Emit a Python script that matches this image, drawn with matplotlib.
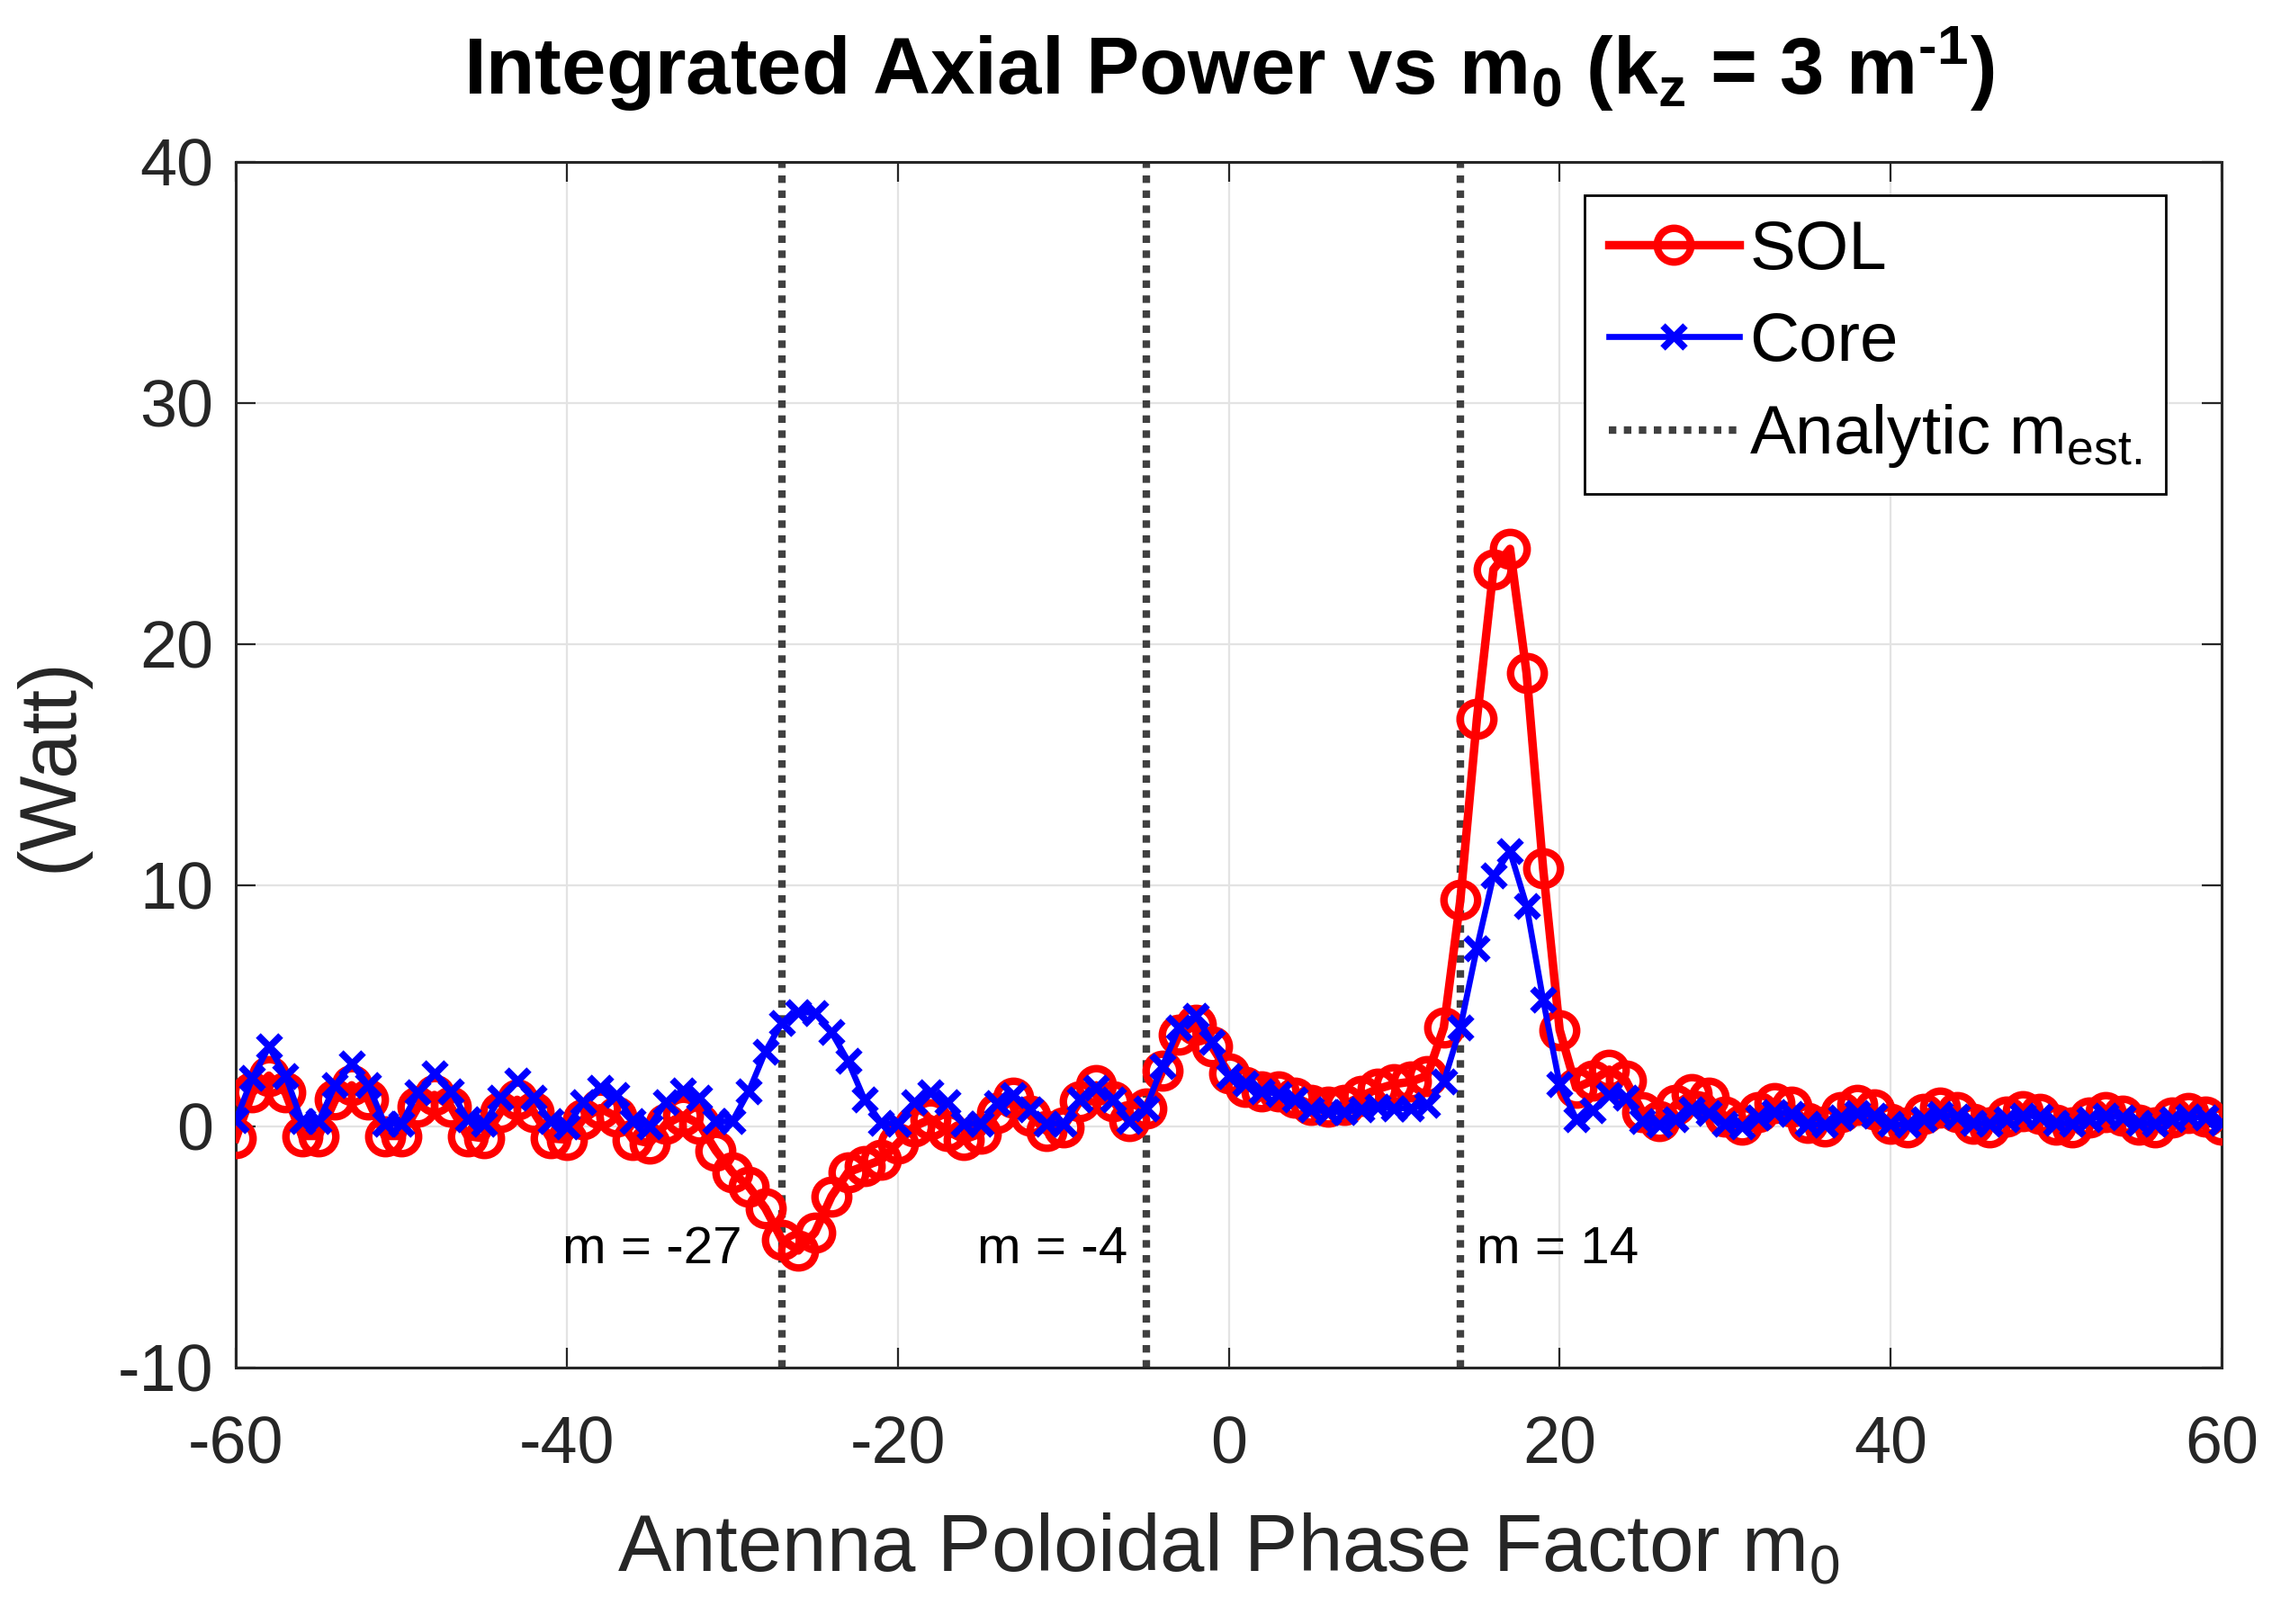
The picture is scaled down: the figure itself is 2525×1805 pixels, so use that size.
import numpy as np
import matplotlib
matplotlib.use("Agg")
import matplotlib.pyplot as plt

# antenna poloidal phase factor m0 (integer scan)
m0 = np.arange(-60, 61)

# integrated axial power in the scrape-off layer (Watt)
sol_power = [
	-0.5, 1.4, 2.1, 1.4, -0.4, -0.4, 1.1, 1.7, 1.1, -0.4,
	-0.4, 0.8, 1.3, 0.8, -0.4, -0.5, 0.6, 1.1, 0.6, -0.5,
	-0.55, 0.3, 0.75, 0.4, -0.55, -0.7, 0.1, 0.45, 0.1, -1.0,
	-1.9, -2.5, -3.4, -4.7, -5.15, -4.4, -2.9, -1.9, -1.65, -1.4,
	-0.7, 0.0, 0.3, -0.2, -0.55, -0.3, 0.55, 1.2, 0.45, -0.2,
	-0.05, 1.05, 1.7, 1.05, 0.2, 0.75, 2.3, 3.8, 4.2, 3.3,
	2.2, 1.65, 1.45, 1.45, 1.2, 0.9, 0.8, 0.9, 1.25, 1.55,
	1.75, 1.85, 2.1, 4.1, 9.4, 16.9, 23.1, 23.95, 18.8, 10.7,
	4.0, 1.6, 1.9, 2.35, 1.9, 0.6, 0.2, 0.9, 1.35, 1.2,
	0.4, 0.05, 0.6, 0.95, 0.8, 0.15, 0.0, 0.6, 0.9, 0.7,
	0.1, -0.05, 0.5, 0.78, 0.6, 0.1, -0.05, 0.4, 0.62, 0.5,
	0.05, -0.05, 0.35, 0.58, 0.45, 0.05, -0.05, 0.35, 0.55, 0.4,
	0.05,
]

# integrated axial power in the core (Watt)
core_power = [
	0.26, 2.0, 3.3, 2.1, 0.2, 0.2, 1.7, 2.6, 1.7, 0.1,
	0.1, 1.4, 2.2, 1.45, 0.3, 0.1, 1.2, 1.9, 1.2, 0.2,
	0.0, 1.0, 1.6, 1.3, 0.2, 0.0, 1.0, 1.5, 1.2, 0.2,
	0.2, 1.45, 3.1, 4.3, 4.75, 4.7, 3.9, 2.7, 1.1, 0.15,
	0.1, 1.0, 1.4, 1.0, 0.1, 0.1, 0.95, 1.3, 0.7, 0.1,
	0.1, 1.1, 1.6, 1.1, 0.2, 0.75, 2.5, 4.1, 4.6, 3.5,
	2.1, 1.8, 1.45, 1.35, 1.1, 0.7, 0.6, 0.6, 0.7, 0.8,
	0.75, 0.75, 0.9, 1.85, 4.1, 7.4, 10.4, 11.4, 9.15, 5.25,
	1.75, 0.3, 0.65, 1.3, 1.2, 0.2, 0.05, 0.3, 0.7, 0.55,
	0.1, 0.0, 0.35, 0.6, 0.5, 0.1, 0.05, 0.35, 0.55, 0.45,
	0.1, 0.05, 0.3, 0.5, 0.4, 0.15, 0.1, 0.3, 0.45, 0.4,
	0.15, 0.1, 0.3, 0.45, 0.35, 0.15, 0.1, 0.3, 0.4, 0.35,
	0.15,
]

# analytic estimates of m, drawn as dotted lines
m_est_lines = [-27, -5, 14]
m_est_labels = ["m = -27", "m = -4", "m = 14"]

x_ticks = [-60, -40, -20, 0, 20, 40, 60]
y_ticks = [-10, 0, 10, 20, 30, 40]

AX_COLOR = "#262626"


def setup_style():
	plt.rcParams["font.family"] = ["Liberation Sans", "DejaVu Sans"]
	plt.rcParams["mathtext.fontset"] = "custom"
	plt.rcParams["mathtext.rm"] = "Liberation Sans"
	plt.rcParams["mathtext.it"] = "Liberation Sans:italic"
	plt.rcParams["mathtext.bf"] = "Liberation Sans:bold"
	plt.rcParams["axes.unicode_minus"] = False


def create_chart():
	fig = plt.figure(figsize=(25.25, 18.05), dpi=100)
	ax = fig.add_axes([0.1038, 0.158, 0.874, 0.7423])

	ax.plot(m0, sol_power, color="red", lw=6.8, marker="o", ms=27,
		mfc="none", mew=6.0, label="SOL", zorder=3)
	ax.plot(m0, core_power, color="blue", lw=4.8, marker="x", ms=18,
		mew=5.5, label="Core", zorder=4)

	for i, m in enumerate(m_est_lines):
		ax.axvline(m, color="#404040", lw=6.0, ls=(0, (1.0, 1.0)),
			label="Analytic m$_{\\mathrm{est.}}$" if i == 0 else None, zorder=2)

	# text next to the dotted lines
	text_pos = [(-29.4, "right"), (-6.1, "right"), (15.0, "left")]
	for (tx, ha), lab in zip(text_pos, m_est_labels):
		ax.text(tx, -5.1, lab, ha=ha, va="center", fontsize=42, color="black")

	ax.set_xlim(-60, 60)
	ax.set_ylim(-10, 40)
	ax.set_xticks(x_ticks)
	ax.set_yticks(y_ticks)
	ax.grid(True, color="#e3e3e3", lw=1.6)
	ax.set_axisbelow(True)

	ax.tick_params(direction="in", length=16, width=1.6, labelsize=53,
		colors=AX_COLOR, top=True, right=True)
	ax.tick_params(axis="y", pad=18)
	ax.tick_params(axis="x", pad=38)
	for sp in ax.spines.values():
		sp.set_color(AX_COLOR)
		sp.set_linewidth(2.2)

	ax.set_xlabel("Antenna Poloidal Phase Factor m$_0$", fontsize=64, color=AX_COLOR)
	ax.xaxis.label.set_va("baseline")
	ax.xaxis.set_label_coords(0.5, -0.169)
	ax.set_ylabel("(Watt)", fontsize=64, color=AX_COLOR)
	ax.yaxis.label.set_va("center")
	ax.yaxis.set_label_coords(-0.093, 0.5)

	ax.set_title("Integrated Axial Power vs m$_\\mathbf{0}$ (k$_\\mathbf{z}$ = 3 m$^\\mathbf{\u2010 1}$)",
		fontsize=64, fontweight="bold", y=1.05, va="baseline")

	leg = ax.legend(loc="upper right", bbox_to_anchor=(0.972, 0.972), borderaxespad=0,
		fontsize=55, handlelength=1.9, handletextpad=0.15, labelspacing=0.4,
		fancybox=False, framealpha=1, edgecolor="black", borderpad=0.35)
	leg.get_frame().set_linewidth(2.0)

	return fig, ax


def main():
	setup_style()
	fig, ax = create_chart()
	fig.savefig("out.png", dpi=100, facecolor="white")


if __name__ == "__main__":
	main()
